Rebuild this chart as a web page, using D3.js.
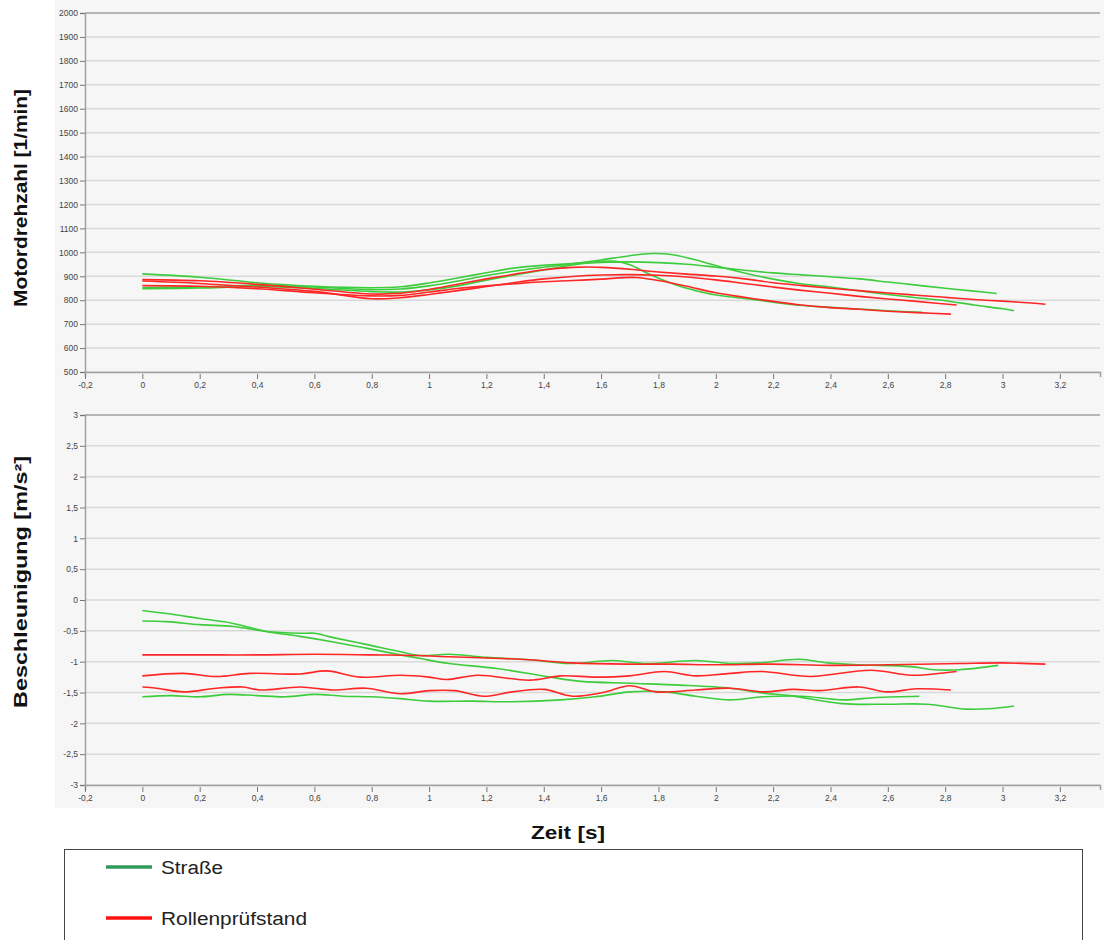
<!DOCTYPE html>
<html>
<head>
<meta charset="utf-8">
<script src="https://cdn.jsdelivr.net/npm/d3@7/dist/d3.min.js"></script>
<style>
  html, body { margin: 0; padding: 0; background: #ffffff; }
  svg { display: block; }
</style>
</head>
<body>
<svg id="chart" width="1104" height="940"></svg>
<script>
// ---- data: time [s] and value pairs, one array per run ----
// Engine speed [1/min]
const rpmRoadA = [[0,910],[0.2,896],[0.4,873],[0.6,858],[0.8,852],[0.9,856],[1.0,872],[1.1,893],[1.2,915],[1.3,935],[1.4,946],[1.5,953],[1.6,958],[1.7,960],[1.8,957],[1.9,950],[2.0,938],[2.1,925],[2.2,914],[2.3,906],[2.4,898],[2.5,889],[2.6,876],[2.7,863],[2.8,850],[2.9,838],[2.98,828]];
const rpmRoadB = [[0,852],[0.2,855],[0.4,862],[0.6,855],[0.8,844],[0.9,847],[1.0,860],[1.1,880],[1.2,903],[1.3,922],[1.4,938],[1.5,952],[1.6,968],[1.7,986],[1.78,995],[1.85,990],[1.95,962],[2.05,928],[2.15,900],[2.29,870],[2.4,855],[2.57,828],[2.7,810],[2.8,798],[2.9,780],[3.0,764],[3.04,756]];
const rpmRoadC = [[0,848],[0.2,851],[0.4,857],[0.6,849],[0.8,836],[0.9,834],[1.0,843],[1.1,860],[1.2,884],[1.3,905],[1.4,926],[1.5,947],[1.6,962],[1.65,963],[1.7,948],[1.76,914],[1.82,882],[1.875,858],[1.93,840],[1.99,824],[2.1,807],[2.2,792],[2.29,779],[2.4,770],[2.5,763],[2.6,756],[2.72,749]];
const rpmRigA = [[0,886],[0.2,881],[0.4,866],[0.6,846],[0.8,826],[0.9,829],[1.0,845],[1.1,867],[1.2,889],[1.3,909],[1.4,927],[1.5,937],[1.55,939],[1.6,937],[1.7,929],[1.8,918],[1.9,909],[2.0,901],[2.1,889],[2.2,873],[2.3,861],[2.4,850],[2.5,840],[2.6,830],[2.7,821],[2.8,812],[2.9,803],[3.0,796],[3.1,788],[3.15,783]];
const rpmRigB = [[0,880],[0.2,870],[0.4,855],[0.6,837],[0.8,806],[0.9,810],[1.0,824],[1.1,840],[1.2,857],[1.3,874],[1.4,889],[1.5,899],[1.6,905],[1.7,907],[1.8,904],[1.9,897],[2.0,885],[2.1,870],[2.2,855],[2.3,841],[2.4,829],[2.5,816],[2.6,805],[2.7,795],[2.84,780]];
const rpmRigC = [[0,861],[0.2,858],[0.4,848],[0.6,831],[0.8,818],[0.9,820],[1.0,834],[1.1,849],[1.2,860],[1.3,869],[1.4,877],[1.5,882],[1.6,888],[1.72,895],[1.8,882],[1.9,858],[2.0,831],[2.1,812],[2.2,795],[2.29,781],[2.4,769],[2.5,762],[2.6,754],[2.7,748],[2.82,742]];

// Acceleration [m/s²]
const accRoadA = [[0,-0.34],[0.085,-0.35],[0.2,-0.40],[0.317,-0.43],[0.433,-0.51],[0.55,-0.54],[0.6,-0.54],[0.666,-0.61],[0.78,-0.72],[0.9,-0.84],[0.97,-0.90],[1.07,-0.88],[1.2,-0.93],[1.35,-0.97],[1.49,-1.03],[1.64,-0.98],[1.76,-1.03],[1.93,-0.98],[2.05,-1.03],[2.15,-1.02],[2.29,-0.96],[2.39,-1.02],[2.5,-1.05],[2.68,-1.08],[2.76,-1.13],[2.85,-1.13],[2.985,-1.06]];
const accRoadB = [[0,-0.17],[0.085,-0.22],[0.2,-0.30],[0.317,-0.38],[0.433,-0.51],[0.55,-0.59],[0.666,-0.68],[0.78,-0.78],[0.9,-0.89],[0.97,-0.95],[1.07,-1.03],[1.235,-1.11],[1.41,-1.24],[1.53,-1.32],[1.70,-1.35],[1.875,-1.38],[2.05,-1.43],[2.165,-1.51],[2.26,-1.55],[2.44,-1.68],[2.6,-1.69],[2.735,-1.69],[2.875,-1.77],[2.967,-1.76],[3.04,-1.72]];
const accRoadC = [[0,-1.57],[0.1,-1.55],[0.2,-1.57],[0.3,-1.53],[0.4,-1.55],[0.5,-1.57],[0.6,-1.53],[0.7,-1.56],[0.8,-1.57],[0.9,-1.60],[1.0,-1.64],[1.15,-1.64],[1.29,-1.65],[1.46,-1.62],[1.58,-1.57],[1.70,-1.49],[1.82,-1.49],[1.93,-1.56],[2.05,-1.62],[2.165,-1.57],[2.3,-1.56],[2.444,-1.62],[2.56,-1.58],[2.71,-1.56]];
const accRigA = [[0,-0.89],[0.2,-0.89],[0.4,-0.89],[0.6,-0.88],[0.8,-0.89],[0.95,-0.90],[1.07,-0.92],[1.2,-0.94],[1.35,-0.97],[1.5,-1.02],[1.7,-1.04],[1.85,-1.04],[2.0,-1.05],[2.2,-1.04],[2.4,-1.06],[2.6,-1.05],[2.85,-1.03],[3.0,-1.02],[3.15,-1.04]];
const accRigB = [[0,-1.23],[0.143,-1.19],[0.259,-1.24],[0.375,-1.19],[0.55,-1.20],[0.643,-1.15],[0.76,-1.25],[0.9,-1.22],[1.0,-1.25],[1.06,-1.29],[1.17,-1.22],[1.35,-1.30],[1.46,-1.23],[1.58,-1.25],[1.70,-1.23],[1.82,-1.16],[1.93,-1.23],[2.05,-1.19],[2.16,-1.16],[2.33,-1.24],[2.54,-1.14],[2.68,-1.22],[2.76,-1.20],[2.84,-1.16]];
const accRigC = [[0,-1.41],[0.05,-1.43],[0.143,-1.49],[0.259,-1.43],[0.352,-1.41],[0.41,-1.46],[0.55,-1.41],[0.666,-1.46],[0.78,-1.43],[0.9,-1.52],[1.0,-1.47],[1.09,-1.47],[1.19,-1.56],[1.29,-1.49],[1.40,-1.45],[1.50,-1.56],[1.607,-1.50],[1.70,-1.39],[1.793,-1.49],[1.93,-1.46],[2.05,-1.43],[2.165,-1.49],[2.27,-1.45],[2.363,-1.47],[2.5,-1.41],[2.596,-1.49],[2.70,-1.44],[2.82,-1.46]];

// Axis ticks
const timeTicks = [-0.2,0,0.2,0.4,0.6,0.8,1,1.2,1.4,1.6,1.8,2,2.2,2.4,2.6,2.8,3,3.2];
const rpmTicks = [500,600,700,800,900,1000,1100,1200,1300,1400,1500,1600,1700,1800,1900,2000];
const accTicks = [-3,-2.5,-2,-1.5,-1,-0.5,0,0.5,1,1.5,2,2.5,3];

const legendItems = [
  {label: "Straße", color: "#2f9a5c", width: 62},
  {label: "Rollenprüfstand", color: "#ff1010", width: 146}
];

const roadColor = "#3ccc3c";
const rigColor = "#ff2626";

// ---- drawing ----
const svg = d3.select("#chart");
const fmt = v => String(Math.round(v * 100) / 100).replace(".", ",");

// panel background
svg.append("rect").attr("x", 55).attr("y", 0).attr("width", 1049).attr("height", 808)
  .attr("fill", "#f6f6f6");

const x = d3.scaleLinear().domain([-0.2, 3.34]).range([85, 1100]);

function drawPanel(yScale, ticks, series) {
  const [yBottom, yTop] = yScale.range();
  const g = svg.append("g");

  // horizontal grid
  g.selectAll("line.grid").data(ticks).join("line")
    .attr("x1", 85).attr("x2", 1100)
    .attr("y1", d => yScale(d)).attr("y2", d => yScale(d))
    .attr("stroke", "#d9d9d9").attr("stroke-width", 1.5);

  // top frame line
  g.append("line").attr("x1", 85).attr("x2", 1100).attr("y1", yTop).attr("y2", yTop)
    .attr("stroke", "#a9a9a9").attr("stroke-width", 1.5);

  // y axis
  const ya = g.append("g").attr("transform", "translate(85,0)")
    .call(d3.axisLeft(yScale).tickValues(ticks).tickFormat(fmt).tickSize(5).tickPadding(2));
  ya.select(".domain").attr("stroke", "#a0a0a0").attr("stroke-width", 1.5);
  ya.selectAll(".tick line").attr("stroke", "#777");
  ya.selectAll("text").attr("fill", "#444").style("font", "8.5px 'Liberation Sans', Arial, sans-serif");

  // x axis
  const xa = g.append("g").attr("transform", `translate(0,${yBottom})`)
    .call(d3.axisBottom(x).tickValues(timeTicks).tickFormat(fmt).tickSize(5).tickPadding(5));
  xa.select(".domain").attr("stroke", "#a0a0a0").attr("stroke-width", 1.5);
  xa.selectAll(".tick line").attr("stroke", "#777").attr("transform", "translate(0,2)");
  xa.selectAll("text").attr("fill", "#444").style("font", "8.5px 'Liberation Sans', Arial, sans-serif");

  const line = d3.line().x(d => x(d[0])).y(d => yScale(d[1])).curve(d3.curveCatmullRom.alpha(0.5));
  g.selectAll("path.run").data(series).join("path")
    .attr("d", d => line(d.values))
    .attr("fill", "none").attr("stroke", d => d.color).attr("stroke-width", 1.6);
}

const yRpm = d3.scaleLinear().domain([500, 2000]).range([372, 13]);
const yAcc = d3.scaleLinear().domain([-3, 3]).range([785, 415]);

drawPanel(yRpm, rpmTicks, [
  {values: rpmRoadA, color: roadColor},
  {values: rpmRoadB, color: roadColor},
  {values: rpmRoadC, color: roadColor},
  {values: rpmRigA, color: rigColor},
  {values: rpmRigB, color: rigColor},
  {values: rpmRigC, color: rigColor}
]);

drawPanel(yAcc, accTicks, [
  {values: accRoadA, color: roadColor},
  {values: accRoadB, color: roadColor},
  {values: accRoadC, color: roadColor},
  {values: accRigA, color: rigColor},
  {values: accRigB, color: rigColor},
  {values: accRigC, color: rigColor}
]);

// axis titles
const titleFont = "bold 18px 'Liberation Sans', Arial, sans-serif";
function title(text, tx, ty, rot, len) {
  svg.append("text").attr("transform", `translate(${tx},${ty}) rotate(${rot})`)
    .attr("text-anchor", "middle").style("font", titleFont).attr("fill", "#111")
    .attr("textLength", len).attr("lengthAdjust", "spacingAndGlyphs")
    .text(text);
}
title("Motordrehzahl [1/min]", 27, 198, -90, 218);
title("Beschleunigung [m/s²]", 27, 582, -90, 252);
title("Zeit [s]", 568, 839, 0, 74);

// legend
svg.append("rect").attr("x", 64.5).attr("y", 849.5).attr("width", 1018).attr("height", 100)
  .attr("fill", "#ffffff").attr("stroke", "#444").attr("stroke-width", 1);
const lg = svg.selectAll("g.legend").data(legendItems).join("g")
  .attr("transform", (d, i) => `translate(0,${867 + i * 51})`);
lg.append("line").attr("x1", 106).attr("x2", 152).attr("y1", 0).attr("y2", 0)
  .attr("stroke", d => d.color).attr("stroke-width", 3.5);
lg.append("text").attr("x", 161).attr("y", 6.5)
  .style("font", "18px 'Liberation Sans', Arial, sans-serif").attr("fill", "#222")
  .attr("textLength", d => d.width).attr("lengthAdjust", "spacingAndGlyphs")
  .text(d => d.label);
</script>
</body>
</html>
